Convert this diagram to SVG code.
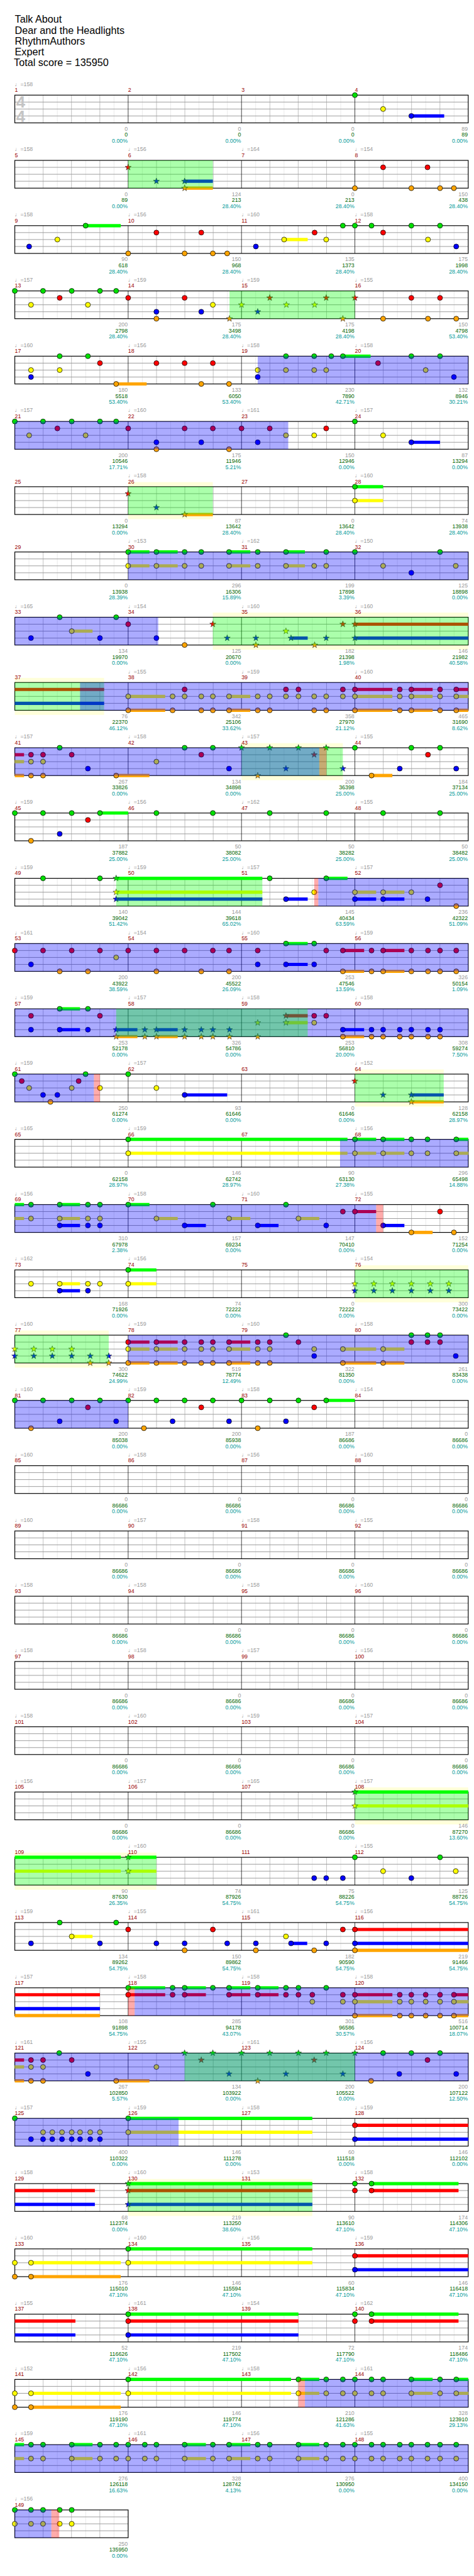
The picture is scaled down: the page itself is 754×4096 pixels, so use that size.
<svg xmlns="http://www.w3.org/2000/svg" width="754" height="4096" viewBox="0 0 754 4096">
<style>
text{font-family:"Liberation Sans","DejaVu Sans",Arial,sans-serif}
.h{font-size:22px;fill:#000}
.t{font-size:12px;fill:#999}
.m{font-size:12px;fill:#900}
.a,.b,.c{font-size:12px;text-anchor:end}
.a{fill:#999}.b{fill:#060}.c{fill:#099}
.ts{font-size:35px;font-weight:bold;fill:#c4c4c4}
.l1{stroke:#e2e2e2;stroke-width:1;fill:none}
.l2{stroke:#aaa;stroke-width:1;fill:none}
.l3{stroke:#999;stroke-width:1.3;fill:none}
.l4{stroke:#000;stroke-width:1;fill:none}
.bd{fill:none;stroke:#000;stroke-width:1.6}
.u{fill:none;stroke-width:7}
.ug{stroke:#0f0}.ur{stroke:#f00}.uy{stroke:#ff0}.ub{stroke:#00f}.uo{stroke:#ffa500}
.od{fill:#00f;fill-opacity:.33}
.sp{fill:#0f0;fill-opacity:.33}
.pk{fill:#f00;fill-opacity:.33}
.yb{fill:#ffffda}
circle{stroke:#000;stroke-width:1}
</style>
<defs>
<circle id="G" r="5.4" fill="#00e000"/>
<circle id="R" cy="15" r="5.4" fill="#f00"/>
<circle id="Y" cy="30" r="5.4" fill="#ff0"/>
<circle id="B" cy="45" r="5.4" fill="#00f"/>
<circle id="O" cy="60" r="5.4" fill="#ffa500"/>
<path id="st" d="M0-7L1.65-2.27L6.66-2.16L2.66 0.87L4.11 5.66L0 2.8L-4.11 5.66L-2.66 0.87L-6.66-2.16L-1.65-2.27Z" stroke="#222" stroke-width=".8"/>
<use id="sG" href="#st" fill="#00e000"/>
<use id="sR" href="#st" y="15" fill="#f00"/>
<use id="sY" href="#st" y="30" fill="#ff0"/>
<use id="sB" href="#st" y="45" fill="#00f"/>
<use id="sO" href="#st" y="60" fill="#ffa500"/>
<g id="grid">
<rect x="32" y="0" width="980" height="60" fill="#fff"/>
<path class="l1" d="M62.6 0V60M123.9 0V60M185.1 0V60M246.4 0V60M307.6 0V60M368.9 0V60M430.1 0V60M491.4 0V60M552.6 0V60M613.9 0V60M675.1 0V60M736.4 0V60M797.6 0V60M858.9 0V60M920.1 0V60M981.4 0V60"/>
<path class="l2" d="M93.3 0V60M154.5 0V60M215.8 0V60M338.3 0V60M399.5 0V60M460.8 0V60M583.3 0V60M644.5 0V60M705.8 0V60M828.3 0V60M889.5 0V60M950.8 0V60"/>
<path class="l3" d="M32 15H1012M32 30H1012M32 45H1012"/>
<path class="l4" d="M277 0V60M522 0V60M767 0V60"/>
<rect class="bd" x="32" y="0" width="980" height="60"/>
</g>
<g id="grid1">
<rect x="32" y="0" width="245" height="60" fill="#fff"/>
<path class="l1" d="M62.6 0V60M123.9 0V60M185.1 0V60M246.4 0V60"/>
<path class="l2" d="M93.3 0V60M154.5 0V60M215.8 0V60"/>
<path class="l3" d="M32 15H277M32 30H277M32 45H277"/>
<rect class="bd" x="32" y="0" width="245" height="60"/>
</g>
</defs>
<rect width="754" height="4096" fill="#fff"/>
<g transform="scale(0.736)">
<g id="header">
<text class="h" x="32" y="49.5">Talk About</text>
<text class="h" x="32" y="72.8">Dear and the Headlights</text>
<text class="h" x="32" y="96">RhythmAuthors</text>
<text class="h" x="32" y="119.3">Expert</text>
<text class="h" x="30" y="142.6">Total score = 135950</text>
</g>

<g id="r1" transform="translate(0,205.5)">
<text class="t" x="32" y="-20">♩=158</text>
<text class="m" x="32" y="-7">1</text><text class="m" x="277" y="-7">2</text><text class="m" x="522" y="-7">3</text><text class="m" x="767" y="-7">4</text>
<use href="#grid"/>
<text class="ts" x="35" y="27.5">4</text><text class="ts" x="35" y="57.5">4</text>
<path class="u ub" d="M889 45H960"/>
<use href="#G" x="767"/><use href="#Y" x="828"/><use href="#B" x="889"/>
<text class="a" x="276" y="77">0</text><text class="b" x="276" y="90">0</text><text class="c" x="276" y="103">0.00%</text>
<text class="a" x="521" y="77">0</text><text class="b" x="521" y="90">0</text><text class="c" x="521" y="103">0.00%</text>
<text class="a" x="766" y="77">0</text><text class="b" x="766" y="90">0</text><text class="c" x="766" y="103">0.00%</text>
<text class="a" x="1011" y="77">89</text><text class="b" x="1011" y="90">89</text><text class="c" x="1011" y="103">0.00%</text>
</g>

<g id="r2" transform="translate(0,346.5)">
<text class="t" x="32" y="-20">♩=158</text><text class="t" x="277" y="-20">♩=156</text><text class="t" x="522" y="-20">♩=164</text><text class="t" x="767" y="-20">♩=154</text>
<text class="m" x="32" y="-7">5</text><text class="m" x="277" y="-7">6</text><text class="m" x="522" y="-7">7</text><text class="m" x="767" y="-7">8</text>
<use href="#grid"/>
<path class="u ub" d="M399 45H460"/><path class="u uo" d="M399 60H460"/>
<use href="#sR" x="277"/><use href="#sB" x="338"/><use href="#sB" x="399"/><use href="#sO" x="399"/>
<use href="#R" x="828"/><use href="#R" x="924"/><use href="#O" x="767"/><use href="#O" x="889"/><use href="#O" x="951"/><use href="#O" x="981"/>
<rect class="sp" x="277" width="183" height="60"/>
<text class="a" x="276" y="77">0</text><text class="b" x="276" y="90">89</text><text class="c" x="276" y="103">0.00%</text>
<text class="a" x="521" y="77">124</text><text class="b" x="521" y="90">213</text><text class="c" x="521" y="103">28.40%</text>
<text class="a" x="766" y="77">0</text><text class="b" x="766" y="90">213</text><text class="c" x="766" y="103">28.40%</text>
<text class="a" x="1011" y="77">150</text><text class="b" x="1011" y="90">438</text><text class="c" x="1011" y="103">28.40%</text>
</g>

<g id="r3" transform="translate(0,487.5)">
<text class="t" x="32" y="-20">♩=158</text><text class="t" x="277" y="-20">♩=156</text><text class="t" x="522" y="-20">♩=160</text><text class="t" x="767" y="-20">♩=158</text>
<text class="m" x="32" y="-7">9</text><text class="m" x="277" y="-7">10</text><text class="m" x="522" y="-7">11</text><text class="m" x="767" y="-7">12</text>
<use href="#grid"/>
<path class="u ug" d="M185 0H261"/><path class="u uy" d="M614 30H665"/>
<use href="#B" x="63"/><use href="#Y" x="124"/><use href="#G" x="185"/><use href="#O" x="277"/><use href="#R" x="338"/><use href="#O" x="399"/><use href="#R" x="435"/><use href="#O" x="460"/><use href="#O" x="491"/><use href="#B" x="553"/><use href="#Y" x="614"/><use href="#R" x="680"/><use href="#Y" x="705"/><use href="#G" x="741"/><use href="#G" x="767"/><use href="#G" x="803"/><use href="#R" x="828"/><use href="#G" x="889"/><use href="#Y" x="925"/><use href="#G" x="951"/><use href="#B" x="986"/>
<text class="a" x="276" y="77">90</text><text class="b" x="276" y="90">618</text><text class="c" x="276" y="103">28.40%</text>
<text class="a" x="521" y="77">150</text><text class="b" x="521" y="90">968</text><text class="c" x="521" y="103">28.40%</text>
<text class="a" x="766" y="77">135</text><text class="b" x="766" y="90">1373</text><text class="c" x="766" y="103">28.40%</text>
<text class="a" x="1011" y="77">175</text><text class="b" x="1011" y="90">1998</text><text class="c" x="1011" y="103">28.40%</text>
</g>

<g id="r4" transform="translate(0,628.5)">
<text class="t" x="32" y="-20">♩=157</text><text class="t" x="277" y="-20">♩=159</text><text class="t" x="522" y="-20">♩=159</text><text class="t" x="767" y="-20">♩=155</text>
<text class="m" x="32" y="-7">13</text><text class="m" x="277" y="-7">14</text><text class="m" x="522" y="-7">15</text><text class="m" x="767" y="-7">16</text>
<use href="#grid"/>
<use href="#G" x="32"/><use href="#G" x="93"/><use href="#G" x="155"/><use href="#G" x="216"/><use href="#G" x="251"/><use href="#R" x="129"/><use href="#R" x="277"/><use href="#R" x="399"/><use href="#Y" x="67"/><use href="#Y" x="190"/><use href="#Y" x="460"/><use href="#B" x="338"/><use href="#B" x="435"/><use href="#O" x="338"/><use href="#R" x="889"/><use href="#R" x="951"/><use href="#O" x="828"/><use href="#O" x="925"/><use href="#O" x="986"/>
<use href="#sO" x="496"/><use href="#sY" x="522"/><use href="#sR" x="583"/><use href="#sB" x="557"/><use href="#sY" x="619"/><use href="#sY" x="680"/><use href="#sR" x="705"/><use href="#sO" x="741"/><use href="#sR" x="767"/>
<rect class="sp" x="496" width="271" height="60"/>
<text class="a" x="276" y="77">200</text><text class="b" x="276" y="90">2798</text><text class="c" x="276" y="103">28.40%</text>
<text class="a" x="521" y="77">175</text><text class="b" x="521" y="90">3498</text><text class="c" x="521" y="103">28.40%</text>
<text class="a" x="766" y="77">175</text><text class="b" x="766" y="90">4198</text><text class="c" x="766" y="103">28.40%</text>
<text class="a" x="1011" y="77">150</text><text class="b" x="1011" y="90">4798</text><text class="c" x="1011" y="103">53.40%</text>
</g>

<g id="r5" transform="translate(0,769.5)">
<text class="t" x="32" y="-20">♩=160</text><text class="t" x="277" y="-20">♩=156</text><text class="t" x="522" y="-20">♩=158</text><text class="t" x="767" y="-20">♩=158</text>
<text class="m" x="32" y="-7">17</text><text class="m" x="277" y="-7">18</text><text class="m" x="522" y="-7">19</text><text class="m" x="767" y="-7">20</text>
<use href="#grid"/>
<path class="u uo" d="M251 60H317"/><path class="u ug" d="M741 0H801"/>
<use href="#G" x="129"/><use href="#G" x="190"/><use href="#R" x="216"/><use href="#R" x="338"/><use href="#R" x="399"/><use href="#R" x="460"/><use href="#Y" x="67"/><use href="#Y" x="129"/><use href="#B" x="67"/><use href="#O" x="251"/><use href="#O" x="435"/><use href="#O" x="495"/><use href="#Y" x="557"/><use href="#B" x="557"/><use href="#G" x="618"/><use href="#G" x="679"/><use href="#G" x="716"/><use href="#G" x="741"/><use href="#G" x="889"/><use href="#G" x="951"/><use href="#R" x="817"/><use href="#Y" x="618"/><use href="#Y" x="679"/><use href="#Y" x="705"/><use href="#Y" x="920"/><use href="#B" x="981"/>
<rect class="od" x="557" width="455" height="60"/>
<text class="a" x="276" y="77">180</text><text class="b" x="276" y="90">5518</text><text class="c" x="276" y="103">53.40%</text>
<text class="a" x="521" y="77">133</text><text class="b" x="521" y="90">6050</text><text class="c" x="521" y="103">53.40%</text>
<text class="a" x="766" y="77">230</text><text class="b" x="766" y="90">7890</text><text class="c" x="766" y="103">42.71%</text>
<text class="a" x="1011" y="77">132</text><text class="b" x="1011" y="90">8946</text><text class="c" x="1011" y="103">30.21%</text>
</g>

<g id="r6" transform="translate(0,910.5)">
<text class="t" x="32" y="-20">♩=157</text><text class="t" x="277" y="-20">♩=160</text><text class="t" x="522" y="-20">♩=161</text><text class="t" x="767" y="-20">♩=157</text>
<text class="m" x="32" y="-7">21</text><text class="m" x="277" y="-7">22</text><text class="m" x="522" y="-7">23</text><text class="m" x="767" y="-7">24</text>
<use href="#grid"/>
<path class="u ub" d="M889 45H951"/>
<use href="#G" x="32"/><use href="#G" x="93"/><use href="#G" x="155"/><use href="#G" x="216"/><use href="#G" x="251"/><use href="#R" x="124"/><use href="#R" x="277"/><use href="#R" x="399"/><use href="#R" x="460"/><use href="#R" x="522"/><use href="#R" x="583"/><use href="#Y" x="63"/><use href="#Y" x="185"/><use href="#Y" x="618"/><use href="#B" x="338"/><use href="#B" x="435"/><use href="#B" x="557"/><use href="#O" x="338"/><use href="#O" x="495"/><use href="#Y" x="679"/><use href="#R" x="705"/><use href="#G" x="767"/><use href="#Y" x="828"/><use href="#B" x="889"/>
<rect class="od" x="32" width="591" height="60"/>
<text class="a" x="276" y="77">200</text><text class="b" x="276" y="90">10546</text><text class="c" x="276" y="103">17.71%</text>
<text class="a" x="521" y="77">175</text><text class="b" x="521" y="90">11946</text><text class="c" x="521" y="103">5.21%</text>
<text class="a" x="766" y="77">150</text><text class="b" x="766" y="90">12946</text><text class="c" x="766" y="103">0.00%</text>
<text class="a" x="1011" y="77">87</text><text class="b" x="1011" y="90">13294</text><text class="c" x="1011" y="103">0.00%</text>
</g>

<g id="r7" transform="translate(0,1051.5)">
<text class="t" x="277" y="-20">♩=158</text><text class="t" x="767" y="-20">♩=160</text>
<rect class="yb" x="277" y="-10" width="183" height="80"/>
<text class="m" x="32" y="-7">25</text><text class="m" x="277" y="-7">26</text><text class="m" x="522" y="-7">27</text><text class="m" x="767" y="-7">28</text>
<use href="#grid"/>
<path class="u uo" d="M399 60H460"/><path class="u ug" d="M767 0H828"/><path class="u uy" d="M767 30H828"/>
<use href="#sR" x="277"/><use href="#sB" x="338"/><use href="#sO" x="399"/>
<use href="#G" x="767"/><use href="#Y" x="767"/>
<rect class="sp" x="277" width="183" height="60"/>
<text class="a" x="276" y="77">0</text><text class="b" x="276" y="90">13294</text><text class="c" x="276" y="103">0.00%</text>
<text class="a" x="521" y="77">87</text><text class="b" x="521" y="90">13642</text><text class="c" x="521" y="103">28.40%</text>
<text class="a" x="766" y="77">0</text><text class="b" x="766" y="90">13642</text><text class="c" x="766" y="103">28.40%</text>
<text class="a" x="1011" y="77">74</text><text class="b" x="1011" y="90">13938</text><text class="c" x="1011" y="103">28.40%</text>
</g>

<g id="r8" transform="translate(0,1192.5)">
<text class="t" x="277" y="-20">♩=153</text><text class="t" x="522" y="-20">♩=162</text><text class="t" x="767" y="-20">♩=150</text>
<text class="m" x="32" y="-7">29</text><text class="m" x="277" y="-7">30</text><text class="m" x="522" y="-7">31</text><text class="m" x="767" y="-7">32</text>
<use href="#grid"/>
<path class="u ug" d="M277 0H323M338 0H384M495 0H541M618 0H659"/><path class="u uy" d="M277 30H323M338 30H384M495 30H541M618 30H659"/>
<use href="#G" x="277"/><use href="#G" x="338"/><use href="#G" x="399"/><use href="#G" x="435"/><use href="#G" x="495"/><use href="#G" x="557"/><use href="#G" x="618"/><use href="#G" x="705"/><use href="#G" x="767"/><use href="#G" x="951"/>
<use href="#Y" x="277"/><use href="#Y" x="338"/><use href="#Y" x="399"/><use href="#Y" x="435"/><use href="#Y" x="495"/><use href="#Y" x="557"/><use href="#Y" x="618"/><use href="#Y" x="679"/><use href="#Y" x="705"/><use href="#Y" x="828"/><use href="#Y" x="985"/><use href="#B" x="889"/>
<rect class="od" x="277" width="735" height="60"/>
<text class="a" x="276" y="77">0</text><text class="b" x="276" y="90">13938</text><text class="c" x="276" y="103">28.39%</text>
<text class="a" x="521" y="77">296</text><text class="b" x="521" y="90">16306</text><text class="c" x="521" y="103">15.89%</text>
<text class="a" x="766" y="77">199</text><text class="b" x="766" y="90">17898</text><text class="c" x="766" y="103">3.39%</text>
<text class="a" x="1011" y="77">125</text><text class="b" x="1011" y="90">18898</text><text class="c" x="1011" y="103">0.00%</text>
</g>

<g id="r9" transform="translate(0,1333.5)">
<text class="t" x="32" y="-20">♩=165</text><text class="t" x="277" y="-20">♩=154</text><text class="t" x="522" y="-20">♩=160</text><text class="t" x="767" y="-20">♩=160</text>
<rect class="yb" x="460" y="-10" width="552" height="80"/>
<text class="m" x="32" y="-7">33</text><text class="m" x="277" y="-7">34</text><text class="m" x="522" y="-7">35</text><text class="m" x="767" y="-7">36</text>
<use href="#grid"/>
<path class="u uy" d="M155 30H200"/><path class="u ub" d="M629 45H665M767 45H1012"/><path class="u ur" d="M767 15H1012"/>
<use href="#G" x="129"/><use href="#G" x="251"/><use href="#R" x="277"/><use href="#Y" x="155"/><use href="#B" x="67"/><use href="#B" x="216"/><use href="#B" x="338"/><use href="#O" x="399"/>
<use href="#sR" x="460"/><use href="#sB" x="491"/><use href="#sB" x="553"/><use href="#sO" x="553"/><use href="#sY" x="618"/><use href="#sB" x="629"/><use href="#sO" x="680"/><use href="#sB" x="705"/><use href="#sR" x="741"/><use href="#sR" x="767"/><use href="#sB" x="767"/>
<rect class="od" x="32" width="310" height="60"/><rect class="sp" x="460" width="552" height="60"/>
<text class="a" x="276" y="77">134</text><text class="b" x="276" y="90">19970</text><text class="c" x="276" y="103">0.00%</text>
<text class="a" x="521" y="77">125</text><text class="b" x="521" y="90">20670</text><text class="c" x="521" y="103">0.00%</text>
<text class="a" x="766" y="77">182</text><text class="b" x="766" y="90">21398</text><text class="c" x="766" y="103">1.98%</text>
<text class="a" x="1011" y="77">146</text><text class="b" x="1011" y="90">21982</text><text class="c" x="1011" y="103">40.58%</text>
</g>

<g id="r10" transform="translate(0,1474.5)">
<text class="t" x="277" y="-20">♩=155</text><text class="t" x="522" y="-20">♩=159</text><text class="t" x="767" y="-20">♩=160</text>
<rect class="yb" x="32" y="-10" width="193" height="80"/>
<text class="m" x="32" y="-7">37</text><text class="m" x="277" y="-7">38</text><text class="m" x="522" y="-7">39</text><text class="m" x="767" y="-7">40</text>
<use href="#grid"/>
<path class="u ur" d="M32 15H225M767 15H848M889 15H935M986 15H1012"/><path class="u ub" d="M32 45H225"/>
<path class="u uy" d="M277 30H357M495 30H541M767 30H848M889 30H935M986 30H1012"/><path class="u uo" d="M277 60H357M495 60H541M767 60H848M889 60H935M986 60H1012"/>
<use href="#R" x="399"/><use href="#R" x="618"/><use href="#R" x="645"/><use href="#R" x="741"/><use href="#R" x="767"/><use href="#R" x="864"/><use href="#R" x="889"/><use href="#R" x="951"/><use href="#R" x="986"/>
<use href="#Y" x="277"/><use href="#Y" x="373"/><use href="#Y" x="399"/><use href="#Y" x="435"/><use href="#Y" x="460"/><use href="#Y" x="495"/><use href="#Y" x="557"/><use href="#Y" x="583"/><use href="#Y" x="618"/><use href="#Y" x="645"/><use href="#Y" x="679"/><use href="#Y" x="705"/><use href="#Y" x="741"/><use href="#Y" x="767"/><use href="#Y" x="864"/><use href="#Y" x="889"/><use href="#Y" x="951"/><use href="#Y" x="986"/>
<use href="#O" x="277"/><use href="#O" x="373"/><use href="#O" x="435"/><use href="#O" x="460"/><use href="#O" x="495"/><use href="#O" x="557"/><use href="#O" x="583"/><use href="#O" x="679"/><use href="#O" x="705"/><use href="#O" x="767"/><use href="#O" x="864"/><use href="#O" x="889"/><use href="#O" x="951"/><use href="#O" x="986"/>
<rect class="sp" x="32" width="193" height="60"/><rect class="od" x="173" width="839" height="60"/>
<text class="a" x="276" y="77">76</text><text class="b" x="276" y="90">22370</text><text class="c" x="276" y="103">46.12%</text>
<text class="a" x="521" y="77">342</text><text class="b" x="521" y="90">25106</text><text class="c" x="521" y="103">33.62%</text>
<text class="a" x="766" y="77">358</text><text class="b" x="766" y="90">27970</text><text class="c" x="766" y="103">21.12%</text>
<text class="a" x="1011" y="77">465</text><text class="b" x="1011" y="90">31690</text><text class="c" x="1011" y="103">8.62%</text>
</g>

<g id="r11" transform="translate(0,1615.5)">
<text class="t" x="32" y="-20">♩=157</text><text class="t" x="277" y="-20">♩=158</text><text class="t" x="522" y="-20">♩=157</text><text class="t" x="767" y="-20">♩=155</text>
<rect class="yb" x="522" y="-10" width="219" height="80"/>
<text class="m" x="32" y="-7">41</text><text class="m" x="277" y="-7">42</text><text class="m" x="522" y="-7">43</text><text class="m" x="767" y="-7">44</text>
<use href="#grid"/>
<path class="u ur" d="M32 15H52"/><path class="u uy" d="M32 30H52"/><path class="u uo" d="M32 60H52M251 60H323M803 60H848"/>
<use href="#R" x="67"/><use href="#R" x="93"/><use href="#R" x="155"/><use href="#R" x="435"/><use href="#Y" x="67"/><use href="#Y" x="93"/><use href="#Y" x="338"/><use href="#G" x="129"/><use href="#G" x="399"/><use href="#G" x="460"/><use href="#B" x="190"/><use href="#B" x="495"/><use href="#O" x="67"/><use href="#O" x="93"/><use href="#O" x="251"/>
<use href="#G" x="767"/><use href="#G" x="889"/><use href="#G" x="951"/><use href="#R" x="925"/><use href="#B" x="864"/><use href="#B" x="986"/><use href="#O" x="803"/>
<use href="#sG" x="522"/><use href="#sG" x="583"/><use href="#sG" x="645"/><use href="#sG" x="705"/><use href="#sR" x="679"/><use href="#sB" x="618"/><use href="#sB" x="741"/><use href="#sO" x="557"/>
<rect class="sp" x="522" width="219" height="60"/><rect class="od" x="32" width="658" height="60"/><rect class="pk" x="690" width="15.7" height="60"/>
<text class="a" x="276" y="77">267</text><text class="b" x="276" y="90">33826</text><text class="c" x="276" y="103">0.00%</text>
<text class="a" x="521" y="77">134</text><text class="b" x="521" y="90">34898</text><text class="c" x="521" y="103">0.00%</text>
<text class="a" x="766" y="77">200</text><text class="b" x="766" y="90">36398</text><text class="c" x="766" y="103">25.00%</text>
<text class="a" x="1011" y="77">184</text><text class="b" x="1011" y="90">37134</text><text class="c" x="1011" y="103">25.00%</text>
</g>

<g id="r12" transform="translate(0,1756.5)">
<text class="t" x="32" y="-20">♩=159</text><text class="t" x="277" y="-20">♩=156</text><text class="t" x="522" y="-20">♩=162</text><text class="t" x="767" y="-20">♩=155</text>
<text class="m" x="32" y="-7">45</text><text class="m" x="277" y="-7">46</text><text class="m" x="522" y="-7">47</text><text class="m" x="767" y="-7">48</text>
<use href="#grid"/>
<path class="u ug" d="M216 0H277"/>
<use href="#G" x="32"/><use href="#G" x="93"/><use href="#G" x="155"/><use href="#G" x="216"/><use href="#G" x="338"/><use href="#G" x="460"/><use href="#G" x="583"/><use href="#G" x="705"/><use href="#G" x="828"/><use href="#G" x="951"/><use href="#R" x="190"/><use href="#B" x="129"/><use href="#O" x="67"/>
<text class="a" x="276" y="77">187</text><text class="b" x="276" y="90">37882</text><text class="c" x="276" y="103">25.00%</text>
<text class="a" x="521" y="77">50</text><text class="b" x="521" y="90">38082</text><text class="c" x="521" y="103">25.00%</text>
<text class="a" x="766" y="77">50</text><text class="b" x="766" y="90">38282</text><text class="c" x="766" y="103">25.00%</text>
<text class="a" x="1011" y="77">50</text><text class="b" x="1011" y="90">38482</text><text class="c" x="1011" y="103">25.00%</text>
</g>

<g id="r13" transform="translate(0,1897.5)">
<text class="t" x="32" y="-20">♩=159</text><text class="t" x="277" y="-20">♩=159</text><text class="t" x="522" y="-20">♩=157</text><text class="t" x="767" y="-20">♩=157</text>
<text class="m" x="32" y="-7">49</text><text class="m" x="277" y="-7">50</text><text class="m" x="522" y="-7">51</text><text class="m" x="767" y="-7">52</text>
<use href="#grid"/>
<path class="u ug" d="M251 0H567M705 0H751"/><path class="u uy" d="M251 30H567M767 30H813M828 30H874"/><path class="u ub" d="M251 45H567M618 45H665M767 45H813M828 45H874"/>
<use href="#G" x="93"/><use href="#G" x="216"/><use href="#G" x="583"/><use href="#B" x="618"/><use href="#Y" x="679"/><use href="#G" x="705"/><use href="#Y" x="767"/><use href="#Y" x="828"/><use href="#Y" x="889"/><use href="#B" x="767"/><use href="#B" x="828"/><use href="#B" x="924"/><use href="#R" x="951"/><use href="#O" x="986"/>
<use href="#sG" x="251"/><use href="#sY" x="251"/><use href="#sB" x="251"/>
<rect class="sp" x="251" width="316" height="60"/><rect class="pk" x="679" width="9" height="60"/><rect class="od" x="688" width="324" height="60"/>
<text class="a" x="276" y="77">140</text><text class="b" x="276" y="90">39042</text><text class="c" x="276" y="103">51.42%</text>
<text class="a" x="521" y="77">144</text><text class="b" x="521" y="90">39618</text><text class="c" x="521" y="103">65.02%</text>
<text class="a" x="766" y="77">145</text><text class="b" x="766" y="90">40434</text><text class="c" x="766" y="103">63.59%</text>
<text class="a" x="1011" y="77">236</text><text class="b" x="1011" y="90">42322</text><text class="c" x="1011" y="103">51.09%</text>
</g>

<g id="r14" transform="translate(0,2038.5)">
<text class="t" x="32" y="-20">♩=161</text><text class="t" x="277" y="-20">♩=154</text><text class="t" x="522" y="-20">♩=160</text><text class="t" x="767" y="-20">♩=159</text>
<text class="m" x="32" y="-7">53</text><text class="m" x="277" y="-7">54</text><text class="m" x="522" y="-7">55</text><text class="m" x="767" y="-7">56</text>
<use href="#grid"/>
<path class="u ur" d="M741 15H787M828 15H874"/><path class="u ug" d="M618 0H665"/><path class="u ub" d="M618 45H665"/><path class="u uo" d="M741 60H787M828 60H874"/>
<use href="#R" x="32"/><use href="#R" x="93"/><use href="#R" x="155"/><use href="#R" x="216"/><use href="#R" x="277"/><use href="#R" x="338"/><use href="#R" x="399"/><use href="#R" x="460"/><use href="#R" x="495"/><use href="#R" x="557"/><use href="#R" x="705"/><use href="#R" x="741"/><use href="#R" x="803"/><use href="#R" x="828"/><use href="#R" x="889"/><use href="#R" x="925"/><use href="#R" x="951"/><use href="#R" x="986"/>
<use href="#Y" x="251"/><use href="#G" x="618"/><use href="#G" x="679"/><use href="#B" x="67"/><use href="#B" x="557"/><use href="#B" x="618"/><use href="#B" x="679"/>
<use href="#O" x="129"/><use href="#O" x="190"/><use href="#O" x="338"/><use href="#O" x="435"/><use href="#O" x="495"/><use href="#O" x="741"/><use href="#O" x="803"/><use href="#O" x="828"/><use href="#O" x="889"/><use href="#O" x="925"/><use href="#O" x="951"/><use href="#O" x="986"/>
<rect class="od" x="32" width="980" height="60"/>
<text class="a" x="276" y="77">200</text><text class="b" x="276" y="90">43922</text><text class="c" x="276" y="103">38.59%</text>
<text class="a" x="521" y="77">200</text><text class="b" x="521" y="90">45522</text><text class="c" x="521" y="103">26.09%</text>
<text class="a" x="766" y="77">253</text><text class="b" x="766" y="90">47546</text><text class="c" x="766" y="103">13.59%</text>
<text class="a" x="1011" y="77">326</text><text class="b" x="1011" y="90">50154</text><text class="c" x="1011" y="103">1.09%</text>
</g>

<g id="r15" transform="translate(0,2179.5)">
<text class="t" x="32" y="-20">♩=159</text><text class="t" x="277" y="-20">♩=157</text><text class="t" x="522" y="-20">♩=158</text><text class="t" x="767" y="-20">♩=158</text>
<text class="m" x="32" y="-7">57</text><text class="m" x="277" y="-7">58</text><text class="m" x="522" y="-7">59</text><text class="m" x="767" y="-7">60</text>
<use href="#grid"/>
<path class="u ug" d="M129 0H173"/><path class="u ub" d="M129 45H173M251 45H297M338 45H384M741 45H787"/><path class="u uo" d="M251 60H297M338 60H384M741 60H787"/><path class="u uy" d="M618 30H665"/><path class="u ur" d="M618 15H665"/>
<use href="#G" x="129"/><use href="#G" x="190"/><use href="#R" x="67"/><use href="#R" x="216"/><use href="#B" x="67"/><use href="#B" x="129"/><use href="#B" x="190"/><use href="#R" x="679"/><use href="#R" x="705"/><use href="#Y" x="679"/>
<use href="#B" x="741"/><use href="#B" x="803"/><use href="#B" x="828"/><use href="#B" x="864"/><use href="#B" x="889"/><use href="#B" x="925"/><use href="#B" x="951"/>
<use href="#O" x="741"/><use href="#O" x="803"/><use href="#O" x="828"/><use href="#O" x="864"/><use href="#O" x="889"/><use href="#O" x="925"/><use href="#O" x="951"/>
<use href="#sB" x="251"/><use href="#sB" x="313"/><use href="#sB" x="338"/><use href="#sB" x="399"/><use href="#sB" x="435"/><use href="#sB" x="460"/><use href="#sB" x="496"/>
<use href="#sO" x="251"/><use href="#sO" x="313"/><use href="#sO" x="338"/><use href="#sO" x="399"/><use href="#sO" x="435"/><use href="#sO" x="460"/><use href="#sO" x="496"/><use href="#sO" x="557"/>
<use href="#sY" x="557"/><use href="#sY" x="618"/><use href="#sR" x="618"/>
<rect class="od" x="32" width="980" height="60"/><rect class="sp" x="251" width="414" height="60"/>
<text class="a" x="276" y="77">253</text><text class="b" x="276" y="90">52178</text><text class="c" x="276" y="103">0.00%</text>
<text class="a" x="521" y="77">326</text><text class="b" x="521" y="90">54786</text><text class="c" x="521" y="103">0.00%</text>
<text class="a" x="766" y="77">253</text><text class="b" x="766" y="90">56810</text><text class="c" x="766" y="103">20.00%</text>
<text class="a" x="1011" y="77">308</text><text class="b" x="1011" y="90">59274</text><text class="c" x="1011" y="103">7.50%</text>
</g>

<g id="r16" transform="translate(0,2320.5)">
<text class="t" x="32" y="-20">♩=159</text><text class="t" x="277" y="-20">♩=157</text><text class="t" x="767" y="-20">♩=152</text>
<rect class="yb" x="767" y="-10" width="192" height="80"/>
<text class="m" x="32" y="-7">61</text><text class="m" x="277" y="-7">62</text><text class="m" x="522" y="-7">63</text><text class="m" x="767" y="-7">64</text>
<use href="#grid"/>
<path class="u ub" d="M399 45H491M889 45H959"/><path class="u uo" d="M889 60H959"/>
<use href="#G" x="32"/><use href="#G" x="185"/><use href="#R" x="47"/><use href="#R" x="170"/><use href="#Y" x="63"/><use href="#Y" x="155"/><use href="#B" x="93"/><use href="#B" x="124"/><use href="#O" x="109"/><use href="#Y" x="216"/><use href="#G" x="277"/><use href="#Y" x="338"/><use href="#B" x="399"/>
<use href="#sR" x="767"/><use href="#sB" x="828"/><use href="#sB" x="889"/><use href="#sO" x="889"/>
<rect class="od" x="32" width="171" height="60"/><rect class="pk" x="203" width="13" height="60"/><rect class="sp" x="767" width="192" height="60"/>
<text class="a" x="276" y="77">250</text><text class="b" x="276" y="90">61274</text><text class="c" x="276" y="103">0.00%</text>
<text class="a" x="521" y="77">93</text><text class="b" x="521" y="90">61646</text><text class="c" x="521" y="103">0.00%</text>
<text class="a" x="766" y="77">0</text><text class="b" x="766" y="90">61646</text><text class="c" x="766" y="103">0.00%</text>
<text class="a" x="1011" y="77">128</text><text class="b" x="1011" y="90">62158</text><text class="c" x="1011" y="103">28.97%</text>
</g>

<g id="r17" transform="translate(0,2461.5)">
<text class="t" x="32" y="-20">♩=165</text><text class="t" x="277" y="-20">♩=159</text><text class="t" x="767" y="-20">♩=156</text>
<text class="m" x="32" y="-7">65</text><text class="m" x="277" y="-7">66</text><text class="m" x="522" y="-7">67</text><text class="m" x="767" y="-7">68</text>
<use href="#grid"/>
<path class="u ug" d="M277 0H751M767 0H813M828 0H874M986 0H1012"/><path class="u uy" d="M277 30H751M767 30H813M828 30H874M986 30H1012"/>
<use href="#G" x="277"/><use href="#Y" x="277"/><use href="#G" x="767"/><use href="#G" x="828"/><use href="#G" x="889"/><use href="#G" x="924"/><use href="#G" x="986"/><use href="#Y" x="767"/><use href="#Y" x="828"/><use href="#Y" x="889"/><use href="#Y" x="924"/><use href="#Y" x="986"/>
<rect class="od" x="735" width="277" height="60"/>
<text class="a" x="276" y="77">0</text><text class="b" x="276" y="90">62158</text><text class="c" x="276" y="103">28.97%</text>
<text class="a" x="521" y="77">146</text><text class="b" x="521" y="90">62742</text><text class="c" x="521" y="103">28.97%</text>
<text class="a" x="766" y="77">90</text><text class="b" x="766" y="90">63130</text><text class="c" x="766" y="103">27.38%</text>
<text class="a" x="1011" y="77">296</text><text class="b" x="1011" y="90">65498</text><text class="c" x="1011" y="103">14.88%</text>
</g>

<g id="r18" transform="translate(0,2602.5)">
<text class="t" x="32" y="-20">♩=156</text><text class="t" x="277" y="-20">♩=158</text><text class="t" x="522" y="-20">♩=160</text><text class="t" x="767" y="-20">♩=155</text>
<text class="m" x="32" y="-7">69</text><text class="m" x="277" y="-7">70</text><text class="m" x="522" y="-7">71</text><text class="m" x="767" y="-7">72</text>
<use href="#grid"/>
<path class="u ug" d="M32 0H52M129 0H173M277 0H323"/><path class="u uy" d="M32 30H52M129 30H173M338 30H384M495 30H541M645 30H690"/><path class="u ub" d="M129 45H173M399 45H445M557 45H602M828 45H874"/><path class="u ur" d="M767 15H813"/><path class="u uo" d="M889 60H935"/>
<use href="#G" x="67"/><use href="#G" x="129"/><use href="#G" x="190"/><use href="#G" x="216"/><use href="#G" x="277"/><use href="#G" x="460"/><use href="#G" x="618"/>
<use href="#Y" x="67"/><use href="#Y" x="129"/><use href="#Y" x="190"/><use href="#Y" x="216"/><use href="#Y" x="338"/><use href="#Y" x="495"/><use href="#Y" x="645"/>
<use href="#B" x="129"/><use href="#B" x="190"/><use href="#B" x="216"/><use href="#B" x="399"/><use href="#B" x="557"/><use href="#B" x="705"/><use href="#B" x="828"/>
<use href="#R" x="741"/><use href="#R" x="767"/><use href="#R" x="951"/><use href="#O" x="889"/><use href="#O" x="981"/>
<rect class="od" x="32" width="781" height="60"/><rect class="pk" x="813" width="15" height="60"/>
<text class="a" x="276" y="77">310</text><text class="b" x="276" y="90">67978</text><text class="c" x="276" y="103">2.38%</text>
<text class="a" x="521" y="77">157</text><text class="b" x="521" y="90">69234</text><text class="c" x="521" y="103">0.00%</text>
<text class="a" x="766" y="77">147</text><text class="b" x="766" y="90">70410</text><text class="c" x="766" y="103">0.00%</text>
<text class="a" x="1011" y="77">152</text><text class="b" x="1011" y="90">71254</text><text class="c" x="1011" y="103">0.00%</text>
</g>

<g id="r19" transform="translate(0,2743.5)">
<text class="t" x="32" y="-20">♩=162</text><text class="t" x="277" y="-20">♩=156</text><text class="t" x="767" y="-20">♩=154</text>
<rect class="yb" x="767" y="-10" width="245" height="80"/>
<text class="m" x="32" y="-7">73</text><text class="m" x="277" y="-7">74</text><text class="m" x="522" y="-7">75</text><text class="m" x="767" y="-7">76</text>
<use href="#grid"/>
<path class="u uy" d="M129 30H173M277 30H338"/><path class="u ub" d="M129 45H173"/><path class="u ug" d="M277 0H338"/>
<use href="#Y" x="67"/><use href="#Y" x="129"/><use href="#Y" x="190"/><use href="#Y" x="216"/><use href="#Y" x="277"/><use href="#B" x="129"/><use href="#B" x="190"/><use href="#G" x="277"/>
<use href="#sY" x="767"/><use href="#sY" x="808"/><use href="#sY" x="848"/><use href="#sY" x="889"/><use href="#sY" x="930"/><use href="#sY" x="970"/>
<use href="#sB" x="767"/><use href="#sB" x="808"/><use href="#sB" x="848"/><use href="#sB" x="889"/><use href="#sB" x="930"/><use href="#sB" x="970"/>
<rect class="sp" x="767" width="245" height="60"/>
<text class="a" x="276" y="77">168</text><text class="b" x="276" y="90">71926</text><text class="c" x="276" y="103">0.00%</text>
<text class="a" x="521" y="77">74</text><text class="b" x="521" y="90">72222</text><text class="c" x="521" y="103">0.00%</text>
<text class="a" x="766" y="77">0</text><text class="b" x="766" y="90">72222</text><text class="c" x="766" y="103">0.00%</text>
<text class="a" x="1011" y="77">300</text><text class="b" x="1011" y="90">73422</text><text class="c" x="1011" y="103">0.00%</text>
</g>

<g id="r20" transform="translate(0,2884.5)">
<text class="t" x="32" y="-20">♩=160</text><text class="t" x="277" y="-20">♩=159</text><text class="t" x="522" y="-20">♩=160</text><text class="t" x="767" y="-20">♩=158</text>
<rect class="yb" x="32" y="-10" width="203" height="80"/>
<text class="m" x="32" y="-7">77</text><text class="m" x="277" y="-7">78</text><text class="m" x="522" y="-7">79</text><text class="m" x="767" y="-7">80</text>
<use href="#grid"/>
<path class="u ur" d="M277 15H323M338 15H384M495 15H541"/><path class="u uy" d="M277 30H323M338 30H384M495 30H541M741 30H813M828 30H874"/><path class="u uo" d="M277 60H323M338 60H384M495 60H541M741 60H813M828 60H874"/>
<use href="#sY" x="32"/><use href="#sY" x="73"/><use href="#sY" x="113"/><use href="#sY" x="155"/><use href="#sB" x="32"/><use href="#sB" x="73"/><use href="#sB" x="113"/><use href="#sB" x="155"/><use href="#sB" x="195"/><use href="#sB" x="235"/><use href="#sO" x="195"/><use href="#sO" x="235"/>
<use href="#R" x="277"/><use href="#R" x="338"/><use href="#R" x="399"/><use href="#R" x="435"/><use href="#R" x="460"/><use href="#R" x="495"/><use href="#R" x="557"/><use href="#R" x="583"/><use href="#R" x="645"/><use href="#R" x="889"/><use href="#R" x="924"/><use href="#R" x="951"/>
<use href="#Y" x="277"/><use href="#Y" x="338"/><use href="#Y" x="399"/><use href="#Y" x="435"/><use href="#Y" x="460"/><use href="#Y" x="495"/><use href="#Y" x="557"/><use href="#Y" x="583"/><use href="#Y" x="679"/><use href="#Y" x="741"/><use href="#Y" x="828"/>
<use href="#O" x="277"/><use href="#O" x="338"/><use href="#O" x="399"/><use href="#O" x="435"/><use href="#O" x="460"/><use href="#O" x="495"/><use href="#O" x="557"/><use href="#O" x="583"/><use href="#O" x="741"/><use href="#O" x="828"/>
<use href="#G" x="618"/><use href="#G" x="889"/><use href="#G" x="924"/><use href="#G" x="951"/><use href="#B" x="679"/><use href="#B" x="985"/>
<rect class="sp" x="32" width="203" height="60"/><rect class="od" x="277" width="735" height="60"/>
<text class="a" x="276" y="77">300</text><text class="b" x="276" y="90">74622</text><text class="c" x="276" y="103">24.99%</text>
<text class="a" x="521" y="77">519</text><text class="b" x="521" y="90">78774</text><text class="c" x="521" y="103">12.49%</text>
<text class="a" x="766" y="77">322</text><text class="b" x="766" y="90">81350</text><text class="c" x="766" y="103">0.00%</text>
<text class="a" x="1011" y="77">261</text><text class="b" x="1011" y="90">83438</text><text class="c" x="1011" y="103">0.00%</text>
</g>

<g id="r21" transform="translate(0,3025.5)">
<text class="t" x="32" y="-20">♩=160</text><text class="t" x="277" y="-20">♩=159</text><text class="t" x="522" y="-20">♩=158</text><text class="t" x="767" y="-20">♩=154</text>
<text class="m" x="32" y="-7">81</text><text class="m" x="277" y="-7">82</text><text class="m" x="522" y="-7">83</text><text class="m" x="767" y="-7">84</text>
<use href="#grid"/>
<path class="u ug" d="M705 0H767"/>
<use href="#G" x="32"/><use href="#G" x="93"/><use href="#G" x="155"/><use href="#G" x="216"/><use href="#G" x="277"/><use href="#G" x="338"/><use href="#G" x="399"/><use href="#G" x="460"/><use href="#G" x="522"/><use href="#G" x="583"/><use href="#G" x="645"/><use href="#G" x="705"/>
<use href="#R" x="190"/><use href="#R" x="435"/><use href="#R" x="679"/><use href="#B" x="129"/><use href="#B" x="251"/><use href="#B" x="373"/><use href="#B" x="495"/><use href="#B" x="618"/><use href="#O" x="67"/><use href="#O" x="311"/><use href="#O" x="557"/>
<rect class="od" x="32" width="245" height="60"/>
<text class="a" x="276" y="77">200</text><text class="b" x="276" y="90">85038</text><text class="c" x="276" y="103">0.00%</text>
<text class="a" x="521" y="77">200</text><text class="b" x="521" y="90">85938</text><text class="c" x="521" y="103">0.00%</text>
<text class="a" x="766" y="77">187</text><text class="b" x="766" y="90">86686</text><text class="c" x="766" y="103">0.00%</text>
<text class="a" x="1011" y="77">0</text><text class="b" x="1011" y="90">86686</text><text class="c" x="1011" y="103">0.00%</text>
</g>

<g id="r22" transform="translate(0,3166.5)">
<text class="t" x="32" y="-20">♩=160</text><text class="t" x="277" y="-20">♩=158</text><text class="t" x="522" y="-20">♩=156</text><text class="t" x="767" y="-20">♩=160</text>
<text class="m" x="32" y="-7">85</text><text class="m" x="277" y="-7">86</text><text class="m" x="522" y="-7">87</text><text class="m" x="767" y="-7">88</text>
<use href="#grid"/>
<text class="a" x="276" y="77">0</text><text class="b" x="276" y="90">86686</text><text class="c" x="276" y="103">0.00%</text>
<text class="a" x="521" y="77">0</text><text class="b" x="521" y="90">86686</text><text class="c" x="521" y="103">0.00%</text>
<text class="a" x="766" y="77">0</text><text class="b" x="766" y="90">86686</text><text class="c" x="766" y="103">0.00%</text>
<text class="a" x="1011" y="77">0</text><text class="b" x="1011" y="90">86686</text><text class="c" x="1011" y="103">0.00%</text>
</g>

<g id="r23" transform="translate(0,3307.5)">
<text class="t" x="32" y="-20">♩=160</text><text class="t" x="277" y="-20">♩=157</text><text class="t" x="522" y="-20">♩=158</text><text class="t" x="767" y="-20">♩=155</text>
<text class="m" x="32" y="-7">89</text><text class="m" x="277" y="-7">90</text><text class="m" x="522" y="-7">91</text><text class="m" x="767" y="-7">92</text>
<use href="#grid"/>
<text class="a" x="276" y="77">0</text><text class="b" x="276" y="90">86686</text><text class="c" x="276" y="103">0.00%</text>
<text class="a" x="521" y="77">0</text><text class="b" x="521" y="90">86686</text><text class="c" x="521" y="103">0.00%</text>
<text class="a" x="766" y="77">0</text><text class="b" x="766" y="90">86686</text><text class="c" x="766" y="103">0.00%</text>
<text class="a" x="1011" y="77">0</text><text class="b" x="1011" y="90">86686</text><text class="c" x="1011" y="103">0.00%</text>
</g>

<g id="r24" transform="translate(0,3448.5)">
<text class="t" x="32" y="-20">♩=158</text><text class="t" x="277" y="-20">♩=158</text><text class="t" x="522" y="-20">♩=158</text><text class="t" x="767" y="-20">♩=160</text>
<text class="m" x="32" y="-7">93</text><text class="m" x="277" y="-7">94</text><text class="m" x="522" y="-7">95</text><text class="m" x="767" y="-7">96</text>
<use href="#grid"/>
<text class="a" x="276" y="77">0</text><text class="b" x="276" y="90">86686</text><text class="c" x="276" y="103">0.00%</text>
<text class="a" x="521" y="77">0</text><text class="b" x="521" y="90">86686</text><text class="c" x="521" y="103">0.00%</text>
<text class="a" x="766" y="77">0</text><text class="b" x="766" y="90">86686</text><text class="c" x="766" y="103">0.00%</text>
<text class="a" x="1011" y="77">0</text><text class="b" x="1011" y="90">86686</text><text class="c" x="1011" y="103">0.00%</text>
</g>

<g id="r25" transform="translate(0,3589.5)">
<text class="t" x="32" y="-20">♩=158</text><text class="t" x="277" y="-20">♩=158</text><text class="t" x="522" y="-20">♩=157</text><text class="t" x="767" y="-20">♩=156</text>
<text class="m" x="32" y="-7">97</text><text class="m" x="277" y="-7">98</text><text class="m" x="522" y="-7">99</text><text class="m" x="767" y="-7">100</text>
<use href="#grid"/>
<text class="a" x="276" y="77">0</text><text class="b" x="276" y="90">86686</text><text class="c" x="276" y="103">0.00%</text>
<text class="a" x="521" y="77">0</text><text class="b" x="521" y="90">86686</text><text class="c" x="521" y="103">0.00%</text>
<text class="a" x="766" y="77">0</text><text class="b" x="766" y="90">86686</text><text class="c" x="766" y="103">0.00%</text>
<text class="a" x="1011" y="77">0</text><text class="b" x="1011" y="90">86686</text><text class="c" x="1011" y="103">0.00%</text>
</g>

<g id="r26" transform="translate(0,3730.5)">
<text class="t" x="32" y="-20">♩=158</text><text class="t" x="277" y="-20">♩=160</text><text class="t" x="522" y="-20">♩=159</text><text class="t" x="767" y="-20">♩=157</text>
<text class="m" x="32" y="-7">101</text><text class="m" x="277" y="-7">102</text><text class="m" x="522" y="-7">103</text><text class="m" x="767" y="-7">104</text>
<use href="#grid"/>
<text class="a" x="276" y="77">0</text><text class="b" x="276" y="90">86686</text><text class="c" x="276" y="103">0.00%</text>
<text class="a" x="521" y="77">0</text><text class="b" x="521" y="90">86686</text><text class="c" x="521" y="103">0.00%</text>
<text class="a" x="766" y="77">0</text><text class="b" x="766" y="90">86686</text><text class="c" x="766" y="103">0.00%</text>
<text class="a" x="1011" y="77">0</text><text class="b" x="1011" y="90">86686</text><text class="c" x="1011" y="103">0.00%</text>
</g>

<g id="r27" transform="translate(0,3871.5)">
<text class="t" x="32" y="-20">♩=156</text><text class="t" x="277" y="-20">♩=157</text><text class="t" x="522" y="-20">♩=165</text><text class="t" x="767" y="-20">♩=157</text>
<rect class="yb" x="767" y="-10" width="245" height="80"/>
<text class="m" x="32" y="-7">105</text><text class="m" x="277" y="-7">106</text><text class="m" x="522" y="-7">107</text><text class="m" x="767" y="-7">108</text>
<use href="#grid"/>
<path class="u ug" d="M767 0H1012"/><path class="u uy" d="M767 30H1012"/>
<use href="#sG" x="767"/><use href="#sY" x="767"/>
<rect class="sp" x="767" width="245" height="60"/>
<text class="a" x="276" y="77">0</text><text class="b" x="276" y="90">86686</text><text class="c" x="276" y="103">0.00%</text>
<text class="a" x="521" y="77">0</text><text class="b" x="521" y="90">86686</text><text class="c" x="521" y="103">0.00%</text>
<text class="a" x="766" y="77">0</text><text class="b" x="766" y="90">86686</text><text class="c" x="766" y="103">0.00%</text>
<text class="a" x="1011" y="77">146</text><text class="b" x="1011" y="90">87270</text><text class="c" x="1011" y="103">13.60%</text>
</g>

<g id="r28" transform="translate(0,4012.5)">
<text class="t" x="277" y="-20">♩=160</text><text class="t" x="767" y="-20">♩=155</text>
<rect class="yb" x="32" y="-10" width="306" height="80"/>
<text class="m" x="32" y="-7">109</text><text class="m" x="277" y="-7">110</text><text class="m" x="522" y="-7">111</text><text class="m" x="767" y="-7">112</text>
<use href="#grid"/>
<path class="u ug" d="M32 0H261M277 0H338"/><path class="u uy" d="M32 30H261M277 30H338"/>
<use href="#sG" x="277"/><use href="#sY" x="277"/>
<use href="#B" x="679"/><use href="#B" x="705"/><use href="#B" x="741"/><use href="#B" x="889"/><use href="#G" x="767"/><use href="#G" x="951"/><use href="#Y" x="828"/><use href="#Y" x="985"/>
<rect class="sp" x="32" width="306" height="60"/>
<text class="a" x="276" y="77">90</text><text class="b" x="276" y="90">87630</text><text class="c" x="276" y="103">26.35%</text>
<text class="a" x="521" y="77">74</text><text class="b" x="521" y="90">87926</text><text class="c" x="521" y="103">54.75%</text>
<text class="a" x="766" y="77">75</text><text class="b" x="766" y="90">88226</text><text class="c" x="766" y="103">54.75%</text>
<text class="a" x="1011" y="77">125</text><text class="b" x="1011" y="90">88726</text><text class="c" x="1011" y="103">54.75%</text>
</g>

<g id="r29" transform="translate(0,4153.5)">
<text class="t" x="32" y="-20">♩=159</text><text class="t" x="277" y="-20">♩=155</text><text class="t" x="522" y="-20">♩=161</text><text class="t" x="767" y="-20">♩=156</text>
<text class="m" x="32" y="-7">113</text><text class="m" x="277" y="-7">114</text><text class="m" x="522" y="-7">115</text><text class="m" x="767" y="-7">116</text>
<use href="#grid"/>
<path class="u uy" d="M155 30H200"/><path class="u ub" d="M629 45H664M767 45H1012"/><path class="u ur" d="M767 15H1012"/><path class="u uo" d="M767 60H1012"/>
<use href="#G" x="129"/><use href="#G" x="251"/><use href="#R" x="277"/><use href="#R" x="460"/><use href="#R" x="741"/><use href="#R" x="767"/><use href="#Y" x="155"/><use href="#Y" x="618"/>
<use href="#B" x="67"/><use href="#B" x="216"/><use href="#B" x="338"/><use href="#B" x="399"/><use href="#B" x="491"/><use href="#B" x="553"/><use href="#B" x="629"/><use href="#B" x="705"/><use href="#B" x="767"/>
<use href="#O" x="399"/><use href="#O" x="553"/><use href="#O" x="679"/><use href="#O" x="767"/>
<text class="a" x="276" y="77">134</text><text class="b" x="276" y="90">89262</text><text class="c" x="276" y="103">54.75%</text>
<text class="a" x="521" y="77">150</text><text class="b" x="521" y="90">89862</text><text class="c" x="521" y="103">54.75%</text>
<text class="a" x="766" y="77">182</text><text class="b" x="766" y="90">90590</text><text class="c" x="766" y="103">54.75%</text>
<text class="a" x="1011" y="77">219</text><text class="b" x="1011" y="90">91466</text><text class="c" x="1011" y="103">54.75%</text>
</g>

<g id="r30" transform="translate(0,4294.5)">
<text class="t" x="32" y="-20">♩=157</text><text class="t" x="277" y="-20">♩=158</text><text class="t" x="522" y="-20">♩=158</text><text class="t" x="767" y="-20">♩=158</text>
<text class="m" x="32" y="-7">117</text><text class="m" x="277" y="-7">118</text><text class="m" x="522" y="-7">119</text><text class="m" x="767" y="-7">120</text>
<use href="#grid"/>
<path class="u ur" d="M32 15H216M277 15H357M399 15H445M495 15H541M557 15H602M767 15H848M981 15H1012"/><path class="u ub" d="M32 45H216"/><path class="u uo" d="M32 60H216M767 60H848M981 60H1012"/>
<path class="u ug" d="M277 0H357M399 0H445M495 0H541M557 0H602"/><path class="u uy" d="M767 30H848M981 30H1012"/>
<use href="#G" x="277"/><use href="#G" x="373"/><use href="#G" x="399"/><use href="#G" x="460"/><use href="#G" x="495"/><use href="#G" x="557"/><use href="#G" x="618"/><use href="#G" x="645"/><use href="#G" x="705"/>
<use href="#R" x="277"/><use href="#R" x="373"/><use href="#R" x="399"/><use href="#R" x="495"/><use href="#R" x="557"/><use href="#R" x="618"/><use href="#R" x="645"/><use href="#R" x="675"/><use href="#R" x="741"/><use href="#R" x="767"/><use href="#R" x="864"/><use href="#R" x="889"/><use href="#R" x="920"/><use href="#R" x="951"/><use href="#R" x="981"/>
<use href="#Y" x="675"/><use href="#Y" x="741"/><use href="#Y" x="767"/><use href="#Y" x="864"/><use href="#Y" x="889"/><use href="#Y" x="920"/><use href="#Y" x="951"/><use href="#Y" x="981"/>
<use href="#O" x="767"/><use href="#O" x="864"/><use href="#O" x="889"/><use href="#O" x="920"/><use href="#O" x="951"/><use href="#O" x="981"/>
<rect class="pk" x="277" width="14" height="60"/><rect class="od" x="291" width="721" height="60"/>
<text class="a" x="276" y="77">108</text><text class="b" x="276" y="90">91898</text><text class="c" x="276" y="103">54.75%</text>
<text class="a" x="521" y="77">285</text><text class="b" x="521" y="90">94178</text><text class="c" x="521" y="103">43.07%</text>
<text class="a" x="766" y="77">301</text><text class="b" x="766" y="90">96586</text><text class="c" x="766" y="103">30.57%</text>
<text class="a" x="1011" y="77">516</text><text class="b" x="1011" y="90">100714</text><text class="c" x="1011" y="103">18.07%</text>
</g>

<g id="r31" transform="translate(0,4435.5)">
<text class="t" x="32" y="-20">♩=161</text><text class="t" x="277" y="-20">♩=155</text><text class="t" x="522" y="-20">♩=161</text><text class="t" x="767" y="-20">♩=156</text>
<text class="m" x="32" y="-7">121</text><text class="m" x="277" y="-7">122</text><text class="m" x="522" y="-7">123</text><text class="m" x="767" y="-7">124</text>
<use href="#grid"/>
<path class="u ur" d="M32 15H52"/><path class="u uy" d="M32 30H52"/><path class="u uo" d="M32 60H52M251 60H323"/>
<use href="#R" x="67"/><use href="#R" x="93"/><use href="#R" x="155"/><use href="#Y" x="67"/><use href="#Y" x="93"/><use href="#Y" x="338"/><use href="#G" x="128"/><use href="#B" x="190"/><use href="#O" x="67"/><use href="#O" x="93"/><use href="#O" x="251"/>
<use href="#G" x="828"/><use href="#G" x="889"/><use href="#G" x="951"/><use href="#R" x="924"/><use href="#B" x="863"/><use href="#B" x="986"/><use href="#O" x="802"/>
<use href="#sG" x="399"/><use href="#sG" x="460"/><use href="#sG" x="522"/><use href="#sG" x="583"/><use href="#sG" x="645"/><use href="#sG" x="705"/><use href="#sG" x="767"/><use href="#sR" x="435"/><use href="#sR" x="679"/><use href="#sB" x="495"/><use href="#sB" x="618"/><use href="#sB" x="741"/><use href="#sO" x="557"/>
<rect class="od" x="32" width="980" height="60"/><rect class="sp" x="399" width="368" height="60"/>
<text class="a" x="276" y="77">267</text><text class="b" x="276" y="90">102850</text><text class="c" x="276" y="103">5.57%</text>
<text class="a" x="521" y="77">134</text><text class="b" x="521" y="90">103922</text><text class="c" x="521" y="103">0.00%</text>
<text class="a" x="766" y="77">200</text><text class="b" x="766" y="90">105522</text><text class="c" x="766" y="103">0.00%</text>
<text class="a" x="1011" y="77">200</text><text class="b" x="1011" y="90">107122</text><text class="c" x="1011" y="103">12.50%</text>
</g>

<g id="r32" transform="translate(0,4576.5)">
<text class="t" x="32" y="-20">♩=157</text><text class="t" x="277" y="-20">♩=159</text><text class="t" x="522" y="-20">♩=158</text><text class="t" x="767" y="-20">♩=159</text>
<text class="m" x="32" y="-7">125</text><text class="m" x="277" y="-7">126</text><text class="m" x="522" y="-7">127</text><text class="m" x="767" y="-7">128</text>
<use href="#grid"/>
<path class="u ug" d="M277 0H675"/><path class="u uy" d="M277 30H675"/><path class="u ur" d="M767 15H1012"/><path class="u ub" d="M767 45H1012"/>
<use href="#G" x="32"/><use href="#G" x="277"/><use href="#Y" x="277"/>
<use href="#Y" x="93"/><use href="#Y" x="113"/><use href="#Y" x="134"/><use href="#Y" x="155"/><use href="#Y" x="173"/><use href="#Y" x="195"/><use href="#Y" x="216"/>
<use href="#B" x="67"/><use href="#B" x="93"/><use href="#B" x="113"/><use href="#B" x="134"/><use href="#B" x="155"/><use href="#B" x="173"/><use href="#B" x="195"/><use href="#B" x="216"/>
<use href="#R" x="767"/><use href="#B" x="767"/>
<rect class="od" x="32" width="354" height="60"/>
<text class="a" x="276" y="77">400</text><text class="b" x="276" y="90">110322</text><text class="c" x="276" y="103">0.00%</text>
<text class="a" x="521" y="77">146</text><text class="b" x="521" y="90">111278</text><text class="c" x="521" y="103">0.00%</text>
<text class="a" x="766" y="77">60</text><text class="b" x="766" y="90">111518</text><text class="c" x="766" y="103">0.00%</text>
<text class="a" x="1011" y="77">146</text><text class="b" x="1011" y="90">112102</text><text class="c" x="1011" y="103">0.00%</text>
</g>

<g id="r33" transform="translate(0,4717.5)">
<text class="t" x="32" y="-20">♩=158</text><text class="t" x="277" y="-20">♩=160</text><text class="t" x="522" y="-20">♩=153</text><text class="t" x="767" y="-20">♩=158</text>
<rect class="yb" x="277" y="-10" width="398" height="80"/>
<text class="m" x="32" y="-7">129</text><text class="m" x="277" y="-7">130</text><text class="m" x="522" y="-7">131</text><text class="m" x="767" y="-7">132</text>
<use href="#grid"/>
<path class="u ur" d="M32 15H205M277 15H675M803 15H991"/><path class="u ub" d="M32 45H205M277 45H675"/><path class="u ug" d="M277 0H675M803 0H991"/>
<use href="#sG" x="277"/><use href="#sR" x="277"/><use href="#sB" x="277"/>
<use href="#G" x="767"/><use href="#R" x="767"/><use href="#G" x="803"/><use href="#R" x="803"/>
<rect class="sp" x="277" width="398" height="60"/>
<text class="a" x="276" y="77">68</text><text class="b" x="276" y="90">112374</text><text class="c" x="276" y="103">0.00%</text>
<text class="a" x="521" y="77">219</text><text class="b" x="521" y="90">113250</text><text class="c" x="521" y="103">38.60%</text>
<text class="a" x="766" y="77">90</text><text class="b" x="766" y="90">113610</text><text class="c" x="766" y="103">47.10%</text>
<text class="a" x="1011" y="77">174</text><text class="b" x="1011" y="90">114306</text><text class="c" x="1011" y="103">47.10%</text>
</g>

<g id="r34" transform="translate(0,4858.5)">
<text class="t" x="32" y="-20">♩=160</text><text class="t" x="277" y="-20">♩=160</text><text class="t" x="522" y="-20">♩=156</text><text class="t" x="767" y="-20">♩=159</text>
<text class="m" x="32" y="-7">133</text><text class="m" x="277" y="-7">134</text><text class="m" x="522" y="-7">135</text><text class="m" x="767" y="-7">136</text>
<use href="#grid"/>
<path class="u uy" d="M67 30H261M277 30H675"/><path class="u uo" d="M67 60H261"/><path class="u ug" d="M277 0H675"/><path class="u ur" d="M767 15H1012"/><path class="u ub" d="M767 45H1012"/>
<use href="#Y" x="32"/><use href="#Y" x="67"/><use href="#O" x="32"/><use href="#O" x="67"/><use href="#G" x="277"/><use href="#Y" x="277"/><use href="#R" x="767"/><use href="#B" x="767"/>
<text class="a" x="276" y="77">176</text><text class="b" x="276" y="90">115010</text><text class="c" x="276" y="103">47.10%</text>
<text class="a" x="521" y="77">146</text><text class="b" x="521" y="90">115594</text><text class="c" x="521" y="103">47.10%</text>
<text class="a" x="766" y="77">60</text><text class="b" x="766" y="90">115834</text><text class="c" x="766" y="103">47.10%</text>
<text class="a" x="1011" y="77">146</text><text class="b" x="1011" y="90">116418</text><text class="c" x="1011" y="103">47.10%</text>
</g>

<g id="r35" transform="translate(0,4999.5)">
<text class="t" x="32" y="-20">♩=155</text><text class="t" x="277" y="-20">♩=161</text><text class="t" x="522" y="-20">♩=154</text><text class="t" x="767" y="-20">♩=162</text>
<text class="m" x="32" y="-7">137</text><text class="m" x="277" y="-7">138</text><text class="m" x="522" y="-7">139</text><text class="m" x="767" y="-7">140</text>
<use href="#grid"/>
<path class="u ur" d="M32 15H163M277 15H645M803 15H991"/><path class="u ub" d="M32 45H163M277 45H645"/><path class="u ug" d="M277 0H645M803 0H991"/>
<use href="#G" x="277"/><use href="#R" x="277"/><use href="#B" x="277"/><use href="#G" x="767"/><use href="#R" x="767"/><use href="#G" x="803"/><use href="#R" x="803"/>
<text class="a" x="276" y="77">52</text><text class="b" x="276" y="90">116626</text><text class="c" x="276" y="103">47.10%</text>
<text class="a" x="521" y="77">219</text><text class="b" x="521" y="90">117502</text><text class="c" x="521" y="103">47.10%</text>
<text class="a" x="766" y="77">72</text><text class="b" x="766" y="90">117790</text><text class="c" x="766" y="103">47.10%</text>
<text class="a" x="1011" y="77">174</text><text class="b" x="1011" y="90">118486</text><text class="c" x="1011" y="103">47.10%</text>
</g>

<g id="r36" transform="translate(0,5140.5)">
<text class="t" x="32" y="-20">♩=152</text><text class="t" x="277" y="-20">♩=156</text><text class="t" x="522" y="-20">♩=158</text><text class="t" x="767" y="-20">♩=161</text>
<text class="m" x="32" y="-7">141</text><text class="m" x="277" y="-7">142</text><text class="m" x="522" y="-7">143</text><text class="m" x="767" y="-7">144</text>
<use href="#grid"/>
<path class="u uy" d="M67 30H261M277 30H629M645 30H690M889 30H935M986 30H1012"/><path class="u uo" d="M67 60H261"/><path class="u ug" d="M277 0H629M645 0H690M889 0H935M986 0H1012"/>
<use href="#Y" x="32"/><use href="#Y" x="67"/><use href="#O" x="32"/><use href="#O" x="67"/><use href="#G" x="277"/><use href="#Y" x="277"/><use href="#G" x="645"/><use href="#Y" x="645"/>
<use href="#G" x="705"/><use href="#G" x="741"/><use href="#G" x="767"/><use href="#G" x="803"/><use href="#G" x="828"/><use href="#G" x="889"/><use href="#G" x="951"/><use href="#G" x="986"/>
<use href="#Y" x="705"/><use href="#Y" x="741"/><use href="#Y" x="767"/><use href="#Y" x="803"/><use href="#Y" x="828"/><use href="#Y" x="889"/><use href="#Y" x="951"/><use href="#Y" x="986"/>
<rect class="pk" x="645" width="14" height="60"/><rect class="od" x="659" width="353" height="60"/>
<text class="a" x="276" y="77">176</text><text class="b" x="276" y="90">119190</text><text class="c" x="276" y="103">47.10%</text>
<text class="a" x="521" y="77">146</text><text class="b" x="521" y="90">119774</text><text class="c" x="521" y="103">47.10%</text>
<text class="a" x="766" y="77">210</text><text class="b" x="766" y="90">121286</text><text class="c" x="766" y="103">41.63%</text>
<text class="a" x="1011" y="77">328</text><text class="b" x="1011" y="90">123910</text><text class="c" x="1011" y="103">29.13%</text>
</g>

<g id="r37" transform="translate(0,5281.5)">
<text class="t" x="32" y="-20">♩=159</text><text class="t" x="277" y="-20">♩=161</text><text class="t" x="522" y="-20">♩=156</text><text class="t" x="767" y="-20">♩=155</text>
<text class="m" x="32" y="-7">145</text><text class="m" x="277" y="-7">146</text><text class="m" x="522" y="-7">147</text><text class="m" x="767" y="-7">148</text>
<use href="#grid"/>
<path class="u ug" d="M32 0H52M155 0H200M399 0H445M495 0H541M645 0H690"/><path class="u uy" d="M32 30H52M155 30H200M399 30H445M495 30H541M645 30H690"/>
<use href="#G" x="67"/><use href="#G" x="93"/><use href="#G" x="155"/><use href="#G" x="216"/><use href="#G" x="251"/><use href="#G" x="277"/><use href="#G" x="313"/><use href="#G" x="338"/><use href="#G" x="399"/><use href="#G" x="460"/><use href="#G" x="495"/><use href="#G" x="557"/><use href="#G" x="583"/><use href="#G" x="645"/><use href="#G" x="705"/><use href="#G" x="741"/><use href="#G" x="767"/><use href="#G" x="803"/><use href="#G" x="828"/><use href="#G" x="864"/><use href="#G" x="889"/><use href="#G" x="924"/><use href="#G" x="951"/><use href="#G" x="986"/>
<use href="#Y" x="67"/><use href="#Y" x="93"/><use href="#Y" x="155"/><use href="#Y" x="216"/><use href="#Y" x="251"/><use href="#Y" x="277"/><use href="#Y" x="313"/><use href="#Y" x="338"/><use href="#Y" x="399"/><use href="#Y" x="460"/><use href="#Y" x="495"/><use href="#Y" x="557"/><use href="#Y" x="583"/><use href="#Y" x="645"/><use href="#Y" x="705"/><use href="#Y" x="741"/><use href="#Y" x="767"/><use href="#Y" x="803"/><use href="#Y" x="828"/><use href="#Y" x="864"/><use href="#Y" x="889"/><use href="#Y" x="924"/><use href="#Y" x="951"/><use href="#Y" x="986"/>
<rect class="od" x="32" width="980" height="60"/>
<text class="a" x="276" y="77">276</text><text class="b" x="276" y="90">126118</text><text class="c" x="276" y="103">16.63%</text>
<text class="a" x="521" y="77">328</text><text class="b" x="521" y="90">128742</text><text class="c" x="521" y="103">4.13%</text>
<text class="a" x="766" y="77">276</text><text class="b" x="766" y="90">130950</text><text class="c" x="766" y="103">0.00%</text>
<text class="a" x="1011" y="77">400</text><text class="b" x="1011" y="90">134150</text><text class="c" x="1011" y="103">0.00%</text>
</g>

<g id="r38" transform="translate(0,5422.5)">
<text class="t" x="32" y="-20">♩=156</text>
<text class="m" x="32" y="-7">149</text>
<use href="#grid1"/>
<use href="#G" x="32"/><use href="#G" x="67"/><use href="#G" x="93"/><use href="#G" x="129"/><use href="#G" x="155"/>
<use href="#Y" x="32"/><use href="#Y" x="67"/><use href="#Y" x="93"/><use href="#Y" x="129"/><use href="#Y" x="155"/>
<rect class="od" x="32" width="79" height="60"/><rect class="pk" x="111" width="17" height="60"/>
<text class="a" x="276" y="77">250</text><text class="b" x="276" y="90">135950</text><text class="c" x="276" y="103">0.00%</text>
</g>
</g>
</svg>
